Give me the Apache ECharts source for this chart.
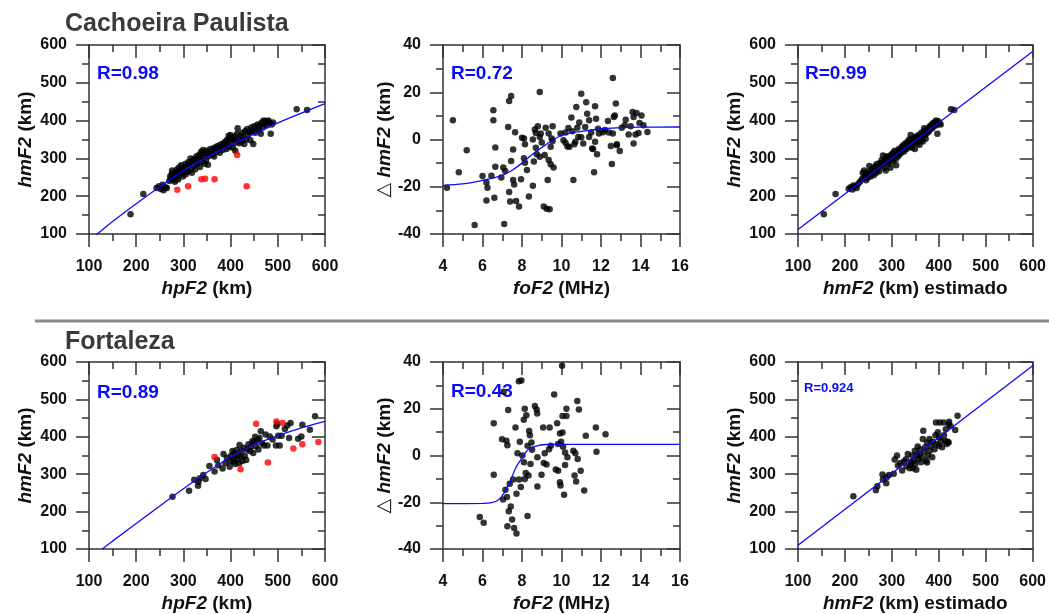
<!DOCTYPE html>
<html><head><meta charset="utf-8">
<script src="https://cdn.jsdelivr.net/npm/echarts@6/dist/echarts.min.js"></script>
<style>html,body{margin:0;padding:0;background:#fff}#c{width:1049px;height:614px}</style>
</head><body><div id="c"></div>
<script>
// ---------------- DATA ----------------
// Cachoeira Paulista: hpF2 vs hmF2
const cpHpBlack = [[188,152],[215,206],[243,222],[248,226],[252,219],[256,230],[258,216],[262,224],[265,222],[270,240],[272,252],[274,246],[275,258],[276,268],[278,243],[279,250],[280,262],[282,238],[283,256],[285,248],[286,270],[288,262],[289,244],[290,275],[291,256],[293,266],[295,282],[296,272],[298,260],[299,252],[300,278],[302,268],[304,285],[305,258],[307,276],[309,265],[310,290],[312,281],[314,270],[315,300],[317,288],[318,262],[320,294],[322,280],[323,299],[325,271],[327,290],[328,306],[330,286],[332,297],[334,310],[335,277],[337,301],[338,318],[340,292],[342,322],[343,305],[345,286],[347,313],[348,296],[350,320],[352,283],[353,306],[355,314],[357,325],[360,318],[362,310],[364,327],[365,305],[367,322],[369,330],[371,318],[373,333],[375,326],[377,315],[379,337],[381,330],[383,322],[385,340],[387,332],[389,345],[391,325],[393,350],[394,338],[396,360],[397,330],[399,352],[400,362],[402,340],[404,355],[405,328],[407,348],[409,358],[410,320],[412,342],[414,365],[415,380],[417,350],[419,340],[421,360],[423,345],[425,368],[427,355],[429,338],[431,372],[433,350],[435,378],[437,362],[440,370],[442,348],[444,382],[446,372],[448,338],[450,385],[452,368],[455,378],[457,390],[460,375],[462,388],[464,365],[466,395],[468,382],[470,400],[472,392],[475,398],[477,388],[480,400],[482,395],[485,365],[487,390],[490,395],[540,430],[562,428]];
const cpHpRed = [[287,217],[310,226],[338,245],[346,246],[366,245],[414,309],[434,226]];
const cpHpFit = [[110,92],[150,133],[200,180],[250,225],[300,268],[350,303],[400,335],[450,365],[500,394],[550,420],[600,445]];

// Cachoeira Paulista: foF2 vs delta hmF2
const cpFoPts = [[4.2,-20.4],[4.5,8.1],[4.8,-13.9],[5.2,-4.5],[5.6,-36.2],[6.0,-15.4],[6.2,-18.2],[6.25,-20.4],[6.2,-25.8],[6.45,-15.3],[6.55,12.4],[6.55,8.1],[6.6,-24.7],[6.65,-3.4],[6.65,-11.5],[6.95,-16.1],[7.05,-11.9],[7.1,-35.8],[7.15,-13.3],[7.3,5.3],[7.35,-22.2],[7.35,16.3],[7.45,18.4],[7.4,-26.2],[7.45,-9.1],[7.55,-4.2],[7.55,-17.1],[7.6,-19],[7.65,3.1],[7.7,-26],[7.85,-28.4],[7.95,-16.8],[8.0,0.7],[8.1,-7.9],[8.15,-2],[8.1,0.4],[8.15,-9.8],[8.25,-12.9],[8.35,-24.1],[8.55,-19.6],[8.55,0],[8.6,-9.3],[8.65,4.2],[8.7,-3.5],[8.7,2.8],[8.75,-6.2],[8.8,5.6],[8.9,1.1],[8.9,-7.3],[8.9,20.1],[8.95,2.5],[9.0,-1.3],[9.1,-28.4],[9.15,-6.6],[9.2,5],[9.25,-29.3],[9.3,-17.1],[9.35,2.5],[9.35,-8.7],[9.4,-29.5],[9.45,-10.5],[9.45,-3.1],[9.5,0.4],[9.55,5.6],[9.55,-0.6],[9.6,-11.9],[9.95,2.5],[10.1,-0.3],[10.2,-1.4],[10.35,4.9],[10.4,-3.1],[10.5,9.3],[10.55,3.5],[10.6,-17.1],[10.65,-2],[10.75,13.8],[10.85,1.1],[10.9,7.2],[11.0,19.4],[11.1,-1.7],[11.2,5.3],[11.25,15.8],[11.3,10.9],[11.4,8.1],[11.4,1.1],[11.55,-3.8],[11.65,-13.9],[11.7,14.1],[11.7,-1],[11.75,8.8],[11.8,-6.2],[11.85,4.6],[11.9,2.5],[12.1,3.1],[12.35,7.8],[12.5,-2.7],[12.55,-10.4],[12.6,2.5],[12.6,26],[12.65,9.5],[12.7,10.2],[12.75,15.2],[12.8,-2.4],[12.95,-4.9],[13.05,5],[13.25,8.4],[13.4,2.1],[13.5,5.6],[13.6,11.6],[13.65,9.5],[13.65,-1.7],[13.75,2.1],[13.8,11.2],[13.9,2.8],[13.95,7],[14.05,10.2],[14.15,6],[14.35,3.2],[10.2,3],[10.3,-3],[10.8,5],[11.5,3],[11.6,-4],[12.2,4],[12.4,3],[12.8,-2],[13.2,6],[10.7,-1],[11.0,1]];
const cpFoFit = [[4,-19.4],[5,-18.8],[6,-17.3],[7,-15.2],[7.5,-13],[8,-10],[8.5,-6.5],[9,-3.4],[9.5,-0.5],[10,1.7],[10.5,2.8],[11,3.4],[12,4.6],[13,5],[14,5.2],[16,5.3]];

// Cachoeira Paulista: hmF2 estimado vs hmF2
const cpEstPts = [[155,152],[180,206],[208,220],[212,224],[216,218],[218,228],[222,226],[225,222],[228,232],[232,238],[236,245],[238,262],[240,250],[241,268],[243,255],[245,242],[246,260],[248,248],[250,265],[252,280],[254,258],[255,252],[257,270],[258,262],[260,275],[262,256],[264,268],[265,280],[267,262],[268,285],[270,272],[272,278],[273,266],[275,288],[277,282],[278,295],[280,285],[281,308],[283,292],[284,275],[286,298],[287,268],[288,305],[290,290],[291,300],[293,285],[294,306],[296,296],[297,275],[299,310],[300,300],[302,292],[303,315],[305,305],[306,320],[308,298],[309,282],[310,312],[312,318],[313,305],[315,325],[316,310],[318,320],[320,315],[321,330],[323,322],[324,335],[326,318],[328,330],[329,340],[331,325],[333,336],[334,345],[336,330],[337,350],[339,338],[340,362],[342,342],[343,328],[345,350],[346,340],[348,355],[349,325],[351,345],[352,358],[354,340],[356,352],[357,362],[359,336],[360,355],[362,348],[363,368],[365,358],[366,345],[368,372],[369,380],[371,362],[372,352],[374,375],[376,368],[377,380],[379,372],[381,385],[382,378],[384,388],[386,380],[387,392],[389,385],[390,395],[392,390],[394,400],[395,388],[397,365],[399,398],[402,392],[404,390],[426,430],[433,428]];
const cpEstFit = [[100,112],[600,583]];

// Fortaleza: hpF2 vs hmF2
const ftHpBlack = [[277,240],[312,256],[323,285],[331,269],[332,280],[335,289],[342,298],[347,287],[355,322],[366,307],[371,338],[374,324],[383,315],[385,354],[389,329],[392,344],[398,320],[399,335],[401,349],[404,362],[406,333],[406,342],[408,356],[410,327],[413,365],[414,340],[416,351],[418,329],[419,378],[421,347],[423,362],[425,335],[428,371],[430,349],[433,338],[435,366],[438,380],[441,362],[443,373],[446,388],[448,357],[450,386],[452,400],[454,375],[457,393],[459,366],[461,397],[464,415],[467,382],[471,377],[474,406],[478,377],[483,401],[489,393],[496,377],[497,428],[499,435],[501,403],[504,377],[508,403],[515,421],[520,430],[524,397],[527,437],[543,395],[550,401],[552,432],[568,419],[579,455]];
const ftHpRed = [[366,346],[421,313],[454,435],[479,331],[497,441],[510,437],[533,369],[552,380],[586,386]];
const ftHpFit = [[128,100],[150,121],[200,168],[250,215],[300,261],[350,305],[400,346],[450,379],[500,403],[550,424],[600,441]];

// Fortaleza: foF2 vs delta hmF2
const ftFoPts = [[5.86,-26.3],[6.06,-28.8],[6.57,13.8],[6.57,-8.2],[6.99,7],[7.07,27.3],[7.21,6.3],[7.16,-14.7],[7.04,-18.8],[7.24,-17.8],[7.26,4.4],[7.3,19.5],[7.26,-30.3],[7.33,-23.9],[7.38,-12.1],[7.43,-21.8],[7.5,-27.4],[7.55,-10.3],[7.6,-31],[7.67,12],[7.72,-33.4],[7.72,-16.4],[7.77,1],[7.84,31.8],[7.97,32.1],[7.89,5.9],[7.85,-10.3],[7.94,-13.5],[8.02,0],[8.09,15.3],[8.1,-2.9],[8.14,20],[8.14,-10],[8.19,-7.5],[8.22,17.2],[8.28,4.2],[8.28,-25.9],[8.33,-8.6],[8.36,10.5],[8.4,8.7],[8.43,-3.6],[8.48,5.6],[8.51,2.5],[8.65,21.2],[8.74,19.7],[8.77,18],[8.78,-0.8],[8.78,-13.3],[8.99,-8.2],[9.07,12],[9.1,-3.2],[9.15,1],[9.24,-3.9],[9.4,12],[9.37,2.7],[9.46,4.2],[9.63,26.1],[9.71,-6],[9.78,13.8],[9.83,-6.5],[9.83,4.9],[9.92,9.4],[9.92,-11.4],[9.95,-12.8],[9.98,5.9],[10.03,38.4],[10.05,9.8],[10.05,16.9],[10.08,3.7],[10.13,-16.8],[10.18,-4.1],[10.25,16.9],[10.25,20],[10.3,-0.8],[10.18,1.3],[10.6,2],[10.66,-8.6],[10.7,1],[10.74,-11.1],[10.8,23.3],[10.82,-1.5],[10.88,19.7],[10.97,-6.5],[11.15,-15],[11.23,8.4],[11.74,12],[11.77,1.6],[12.23,9.1]];
const ftFoFit = [[4,-20.6],[6,-20.5],[6.4,-20.3],[6.8,-19],[7.1,-16],[7.4,-11],[7.7,-5],[8,-1],[8.3,2.5],[8.7,4],[9.2,4.7],[10,4.8],[16,4.8]];

// Fortaleza: hmF2 estimado vs hmF2
const ftEstPts = [[218,241],[266,257],[269,268],[280,299],[281,286],[288,276],[289,292],[294,298],[304,301],[306,339],[311,350],[313,323],[322,310],[326,334],[331,321],[334,354],[338,316],[341,332],[343,350],[345,316],[347,336],[349,363],[350,327],[353,350],[355,374],[357,341],[359,354],[360,367],[362,332],[364,345],[366,394],[367,416],[369,360],[371,372],[373,336],[375,385],[377,350],[380,394],[381,363],[383,376],[386,345],[387,387],[391,367],[393,404],[394,438],[395,381],[398,412],[400,376],[401,398],[402,438],[405,389],[407,372],[410,438],[411,404],[414,389],[415,420],[417,381],[419,387],[421,434],[421,385],[422,440],[425,429],[435,418],[440,456],[375,331],[340,325],[352,312],[318,330],[330,340]];
const ftEstFit = [[100,110],[600,590]];

// Tick settings / labels
const kmRange = [100, 600, 100];
const foRange = [4, 16, 2];
const dRange = [-40, 40, 20];
const titles = ['Cachoeira Paulista', 'Fortaleza'];
const rTexts = ['R=0.98', 'R=0.72', 'R=0.99', 'R=0.89', 'R=0.43', 'R=0.924'];

// ---------------- CHART ----------------
const FONT = '"Liberation Sans", Arial, sans-serif';
const AX = '#333333';
const BLUE = '#0a0aff';

const gridsPos = [
  {left: 89, top: 45, width: 236, height: 189},
  {left: 443, top: 45, width: 237, height: 189},
  {left: 798, top: 45, width: 236, height: 189},
  {left: 89, top: 362, width: 236, height: 189},
  {left: 443, top: 362, width: 237, height: 189},
  {left: 798, top: 362, width: 236, height: 189}
];

const richBase = {
  n: {fontFamily: FONT, fontWeight: 'bold', fontSize: 19, color: '#111'},
  i: {fontFamily: FONT, fontWeight: 'bold', fontStyle: 'italic', fontSize: 19, color: '#111'},
  d: {fontFamily: '"DejaVu Sans", sans-serif', fontWeight: 'normal', fontSize: 19, color: '#111'}
};

function commonAxis(gi, range) {
  return {
    type: 'value', gridIndex: gi, min: range[0], max: range[1], interval: range[2],
    axisLine: {show: true, onZero: false, lineStyle: {color: AX, width: 1.5}},
    splitLine: {show: false}, minorSplitLine: {show: false}
  };
}
function tickStyle(inside) {
  return {
    axisTick: {show: true, inside: inside, length: 13, lineStyle: {color: AX, width: 1.5}},
    minorTick: {show: true, splitNumber: 2, length: 7, lineStyle: {color: AX, width: 1.5}}
  };
}
const labelStyle = {show: true, color: '#111', fontFamily: FONT, fontWeight: 'bold', fontSize: 16};

const xAxis = [], yAxis = [];
function addAxes(gi, xr, yr, xName, yName, yGap) {
  xAxis.push(Object.assign(commonAxis(gi, xr), tickStyle(false), {
    position: 'bottom',
    axisLabel: Object.assign({margin: 25}, labelStyle),
    name: xName, nameLocation: 'middle', nameGap: 45,
    nameTextStyle: {fontFamily: FONT, fontWeight: 'bold', fontSize: 19, color: '#111', rich: richBase}
  }));
  xAxis.push(Object.assign(commonAxis(gi, xr), tickStyle(true), {
    position: 'top', axisLabel: {show: false}
  }));
  yAxis.push(Object.assign(commonAxis(gi, yr), tickStyle(false), {
    position: 'left',
    axisLabel: Object.assign({margin: 22}, labelStyle),
    name: yName, nameLocation: 'middle', nameGap: yGap, nameRotate: 90,
    nameTextStyle: {fontFamily: FONT, fontWeight: 'bold', fontSize: 19, color: '#111', rich: richBase}
  }));
  yAxis.push(Object.assign(commonAxis(gi, yr), tickStyle(true), {
    position: 'right', axisLabel: {show: false}
  }));
}
const nHm = '{i|hmF2}{n| (km)}';
const nHp = '{i|hpF2}{n| (km)}';
const nFo = '{i|foF2}{n| (MHz)}';
const nD = '{d|△} {i|hmF2}{n| (km)}';
const nEst = '{i|hmF2}{n| (km) estimado}';

addAxes(0, kmRange, kmRange, nHp, nHm, 54);
addAxes(1, foRange, dRange, nFo, nD, 42);
addAxes(2, kmRange, kmRange, nEst, nHm, 54);
addAxes(3, kmRange, kmRange, nHp, nHm, 54);
addAxes(4, foRange, dRange, nFo, nD, 42);
addAxes(5, kmRange, kmRange, nEst, nHm, 54);

const series = [];
function dots(gi, data, color) {
  series.push({type: 'scatter', xAxisIndex: gi * 2, yAxisIndex: gi * 2, data: data,
    symbol: 'circle', symbolSize: 6.5, itemStyle: {color: color}, z: 3, silent: true});
}
function fit(gi, data, smooth) {
  series.push({type: 'line', xAxisIndex: gi * 2, yAxisIndex: gi * 2, data: data,
    smooth: smooth, showSymbol: false, symbol: 'none', clip: true,
    lineStyle: {color: BLUE, width: 1.3}, z: 4, silent: true});
}
dots(0, cpHpBlack, '#000'); dots(0, cpHpRed, '#ff0000'); fit(0, cpHpFit, 0.3);
dots(1, cpFoPts, '#000'); fit(1, cpFoFit, 0.3);
dots(2, cpEstPts, '#000'); fit(2, cpEstFit, false);
dots(3, ftHpBlack, '#000'); dots(3, ftHpRed, '#ff0000'); fit(3, ftHpFit, 0.3);
dots(4, ftFoPts, '#000'); fit(4, ftFoFit, 0.3);
dots(5, ftEstPts, '#000'); fit(5, ftEstFit, false);

const rPos = [[97, 64, 19], [451, 64, 19], [805, 64, 19], [97, 383, 19], [451, 382, 19], [804, 382, 13]];
const graphic = [
  {type: 'line', shape: {x1: 35, y1: 321, x2: 1049, y2: 321}, style: {stroke: '#8a8a8a', lineWidth: 3}},
  {type: 'text', left: 65, top: 12, style: {text: titles[0], fill: '#3a3a3a', font: 'bold 25px ' + FONT}},
  {type: 'text', left: 65, top: 330, style: {text: titles[1], fill: '#3a3a3a', font: 'bold 25px ' + FONT}}
];
rTexts.forEach(function (t, k) {
  graphic.push({type: 'text', left: rPos[k][0], top: rPos[k][1], z: 1,
    style: {text: t, fill: BLUE, font: 'bold ' + rPos[k][2] + 'px ' + FONT}});
});

const chart = echarts.init(document.getElementById('c'), null, {renderer: 'canvas'});
chart.setOption({
  animation: false,
  backgroundColor: '#ffffff',
  grid: gridsPos,
  xAxis: xAxis,
  yAxis: yAxis,
  series: series,
  graphic: graphic
});
</script></body></html>
